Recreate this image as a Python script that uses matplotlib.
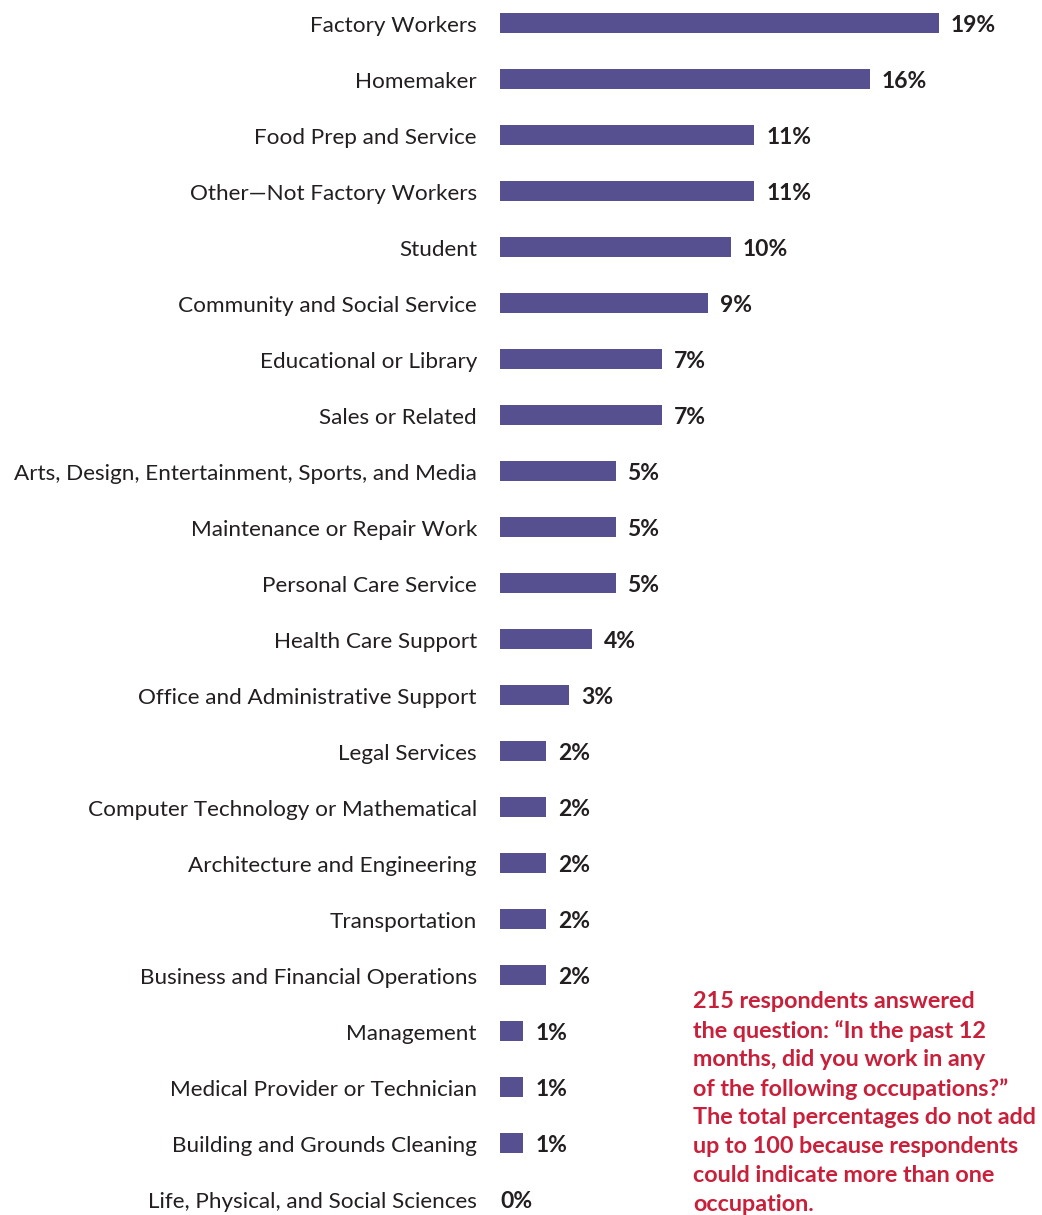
import matplotlib
matplotlib.use("Agg")
import matplotlib.pyplot as plt

categories = [
    "Factory Workers", "Homemaker", "Food Prep and Service",
    "Other\u2014Not Factory Workers", "Student", "Community and Social Service",
    "Educational or Library", "Sales or Related",
    "Arts, Design, Entertainment, Sports, and Media",
    "Maintenance or Repair Work", "Personal Care Service",
    "Health Care Support", "Office and Administrative Support",
    "Legal Services", "Computer Technology or Mathematical",
    "Architecture and Engineering", "Transportation",
    "Business and Financial Operations", "Management",
    "Medical Provider or Technician", "Building and Grounds Cleaning",
    "Life, Physical, and Social Sciences",
]
values = [19, 16, 11, 11, 10, 9, 7, 7, 5, 5, 5, 4, 3, 2, 2, 2, 2, 2, 1, 1, 1, 0]

note_lines = [
    "215 respondents answered",
    "the question: \u201cIn the past 12",
    "months, did you work in any",
    "of the following occupations?\u201d",
    "The total percentages do not add",
    "up to 100 because respondents",
    "could indicate more than one",
    "occupation.",
]

W, H = 1042, 1215
fig = plt.figure(figsize=(W / 100, H / 100), dpi=100)
fig.patch.set_facecolor("white")

px_per_unit = 23.1
left_px = 500
ax_w_px = W - left_px
ax = fig.add_axes([left_px / W, 0, ax_w_px / W, 1])
ax.set_xlim(0, ax_w_px / px_per_unit)
row_px = 56
first_px = 23
ax.set_ylim((H - first_px) / row_px, -first_px / row_px)
ax.axis("off")

bar_color = "#565090"
text_color = "#231f20"
font = "Lato"

ys = list(range(len(categories)))
ax.barh(ys, values, height=20 / row_px, color=bar_color, left=0)

for y, cat, v in zip(ys, categories, values):
    ax.annotate(cat, xy=(0, y), xytext=(-23, -1), textcoords="offset pixels",
                ha="right", va="center_baseline", fontsize=16.2,
                color=text_color, family=font)
    off = 12 if v > 0 else 0
    ax.annotate(f"{v}%", xy=(v, y), xytext=(off, -1), textcoords="offset pixels",
                ha="left", va="center_baseline", fontsize=16.5,
                fontweight="bold", color=text_color, family=font)

for i, line in enumerate(note_lines):
    fig.text(693 / W, 1 - (1000 + 28.9 * i) / H, line, ha="left",
             va="center_baseline", fontsize=16.8, fontweight="bold",
             color="#c8203a", family=font)

fig.savefig("out.png", dpi=100, facecolor="white")
